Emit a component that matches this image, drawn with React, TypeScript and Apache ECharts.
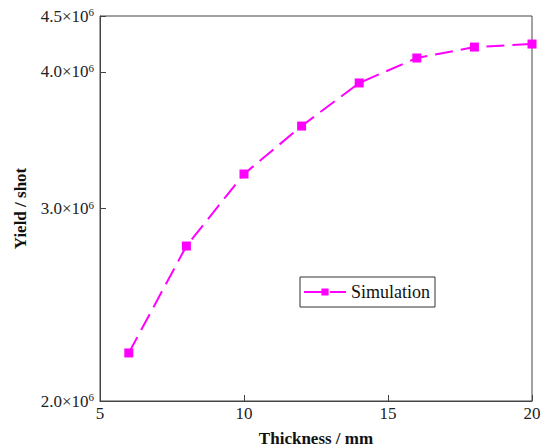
import React, { useEffect, useRef } from "react";
import * as echarts from "echarts";

const thickness = [6, 8, 10, 12, 14, 16, 18, 20];
const yieldValues = [2.213e6, 2.772e6, 3.226e6, 3.569e6, 3.908e6, 4.119e6, 4.215e6, 4.242e6];
const yTicks = [2.0e6, 3.0e6, 4.0e6, 4.5e6];
const seriesName = "Simulation";

const FONT = "'Liberation Serif', 'Times New Roman', serif";

export default function App() {
  const ref = useRef<HTMLDivElement>(null);
  useEffect(() => {
    document.body.style.margin = "0";
    const chart = echarts.init(ref.current!, null, { renderer: "svg" });
    chart.setOption({
      animation: false,
      textStyle: { fontFamily: FONT },
      grid: {
        left: 100,
        right: 16,
        top: 16,
        bottom: 46,
        show: true,
        borderColor: "#444",
        borderWidth: 1,
        outerBoundsMode: "none",
      },
      legend: {
        data: [seriesName],
        left: 300,
        top: 277,
        orient: "horizontal",
        borderColor: "#333",
        borderWidth: 1,
        borderRadius: 0,
        padding: [6, 5, 6, 3],
        itemWidth: 42,
        itemHeight: 9,
        itemGap: 4,
        textStyle: { fontFamily: FONT, fontSize: 18, color: "#111" },
      },
      xAxis: {
        type: "value",
        min: 5,
        max: 20,
        interval: 5,
        name: "Thickness / mm",
        nameLocation: "middle",
        nameGap: 29,
        nameTextStyle: { fontFamily: FONT, fontSize: 17, fontWeight: "bold", color: "#111" },
        axisLine: { show: true, lineStyle: { color: "#444", width: 1 } },
        axisTick: { show: true, inside: true, length: 6, lineStyle: { color: "#444" } },
        axisLabel: { fontFamily: FONT, fontSize: 17, color: "#222", margin: 4 },
        splitLine: { show: false },
      },
      yAxis: {
        type: "log",
        min: 2.0e6,
        max: 4.5e6,
        name: "Yield / shot",
        nameLocation: "middle",
        nameGap: 71,
        nameTextStyle: { fontFamily: FONT, fontSize: 17, fontWeight: "bold", color: "#111" },
        axisLine: { show: true, lineStyle: { color: "#444", width: 1 } },
        axisTick: { show: true, inside: true, length: 6, lineStyle: { color: "#444" }, customValues: yTicks },
        axisLabel: {
          customValues: yTicks,
          margin: 6,
          formatter: (v: number) => `{m|${(v / 1e6).toFixed(1)}×10}{s|6}`,
          rich: {
            m: { fontFamily: FONT, fontSize: 17, color: "#222" },
            s: { fontFamily: FONT, fontSize: 11, color: "#222", verticalAlign: "top", padding: [0, 0, 8, 0] },
          },
        },
        splitLine: { show: false },
      },
      series: [
        {
          name: seriesName,
          type: "line",
          data: thickness.map((t, i) => [t, yieldValues[i]]),
          symbol: "rect",
          symbolSize: 9,
          itemStyle: { color: "#ff00ff" },
          lineStyle: { color: "#ff00ff", width: 2, type: [18, 8] },
          clip: false,
        },
      ],
    });
    return () => chart.dispose();
  }, []);
  return <div ref={ref} style={{ width: 548, height: 447 }} />;
}
